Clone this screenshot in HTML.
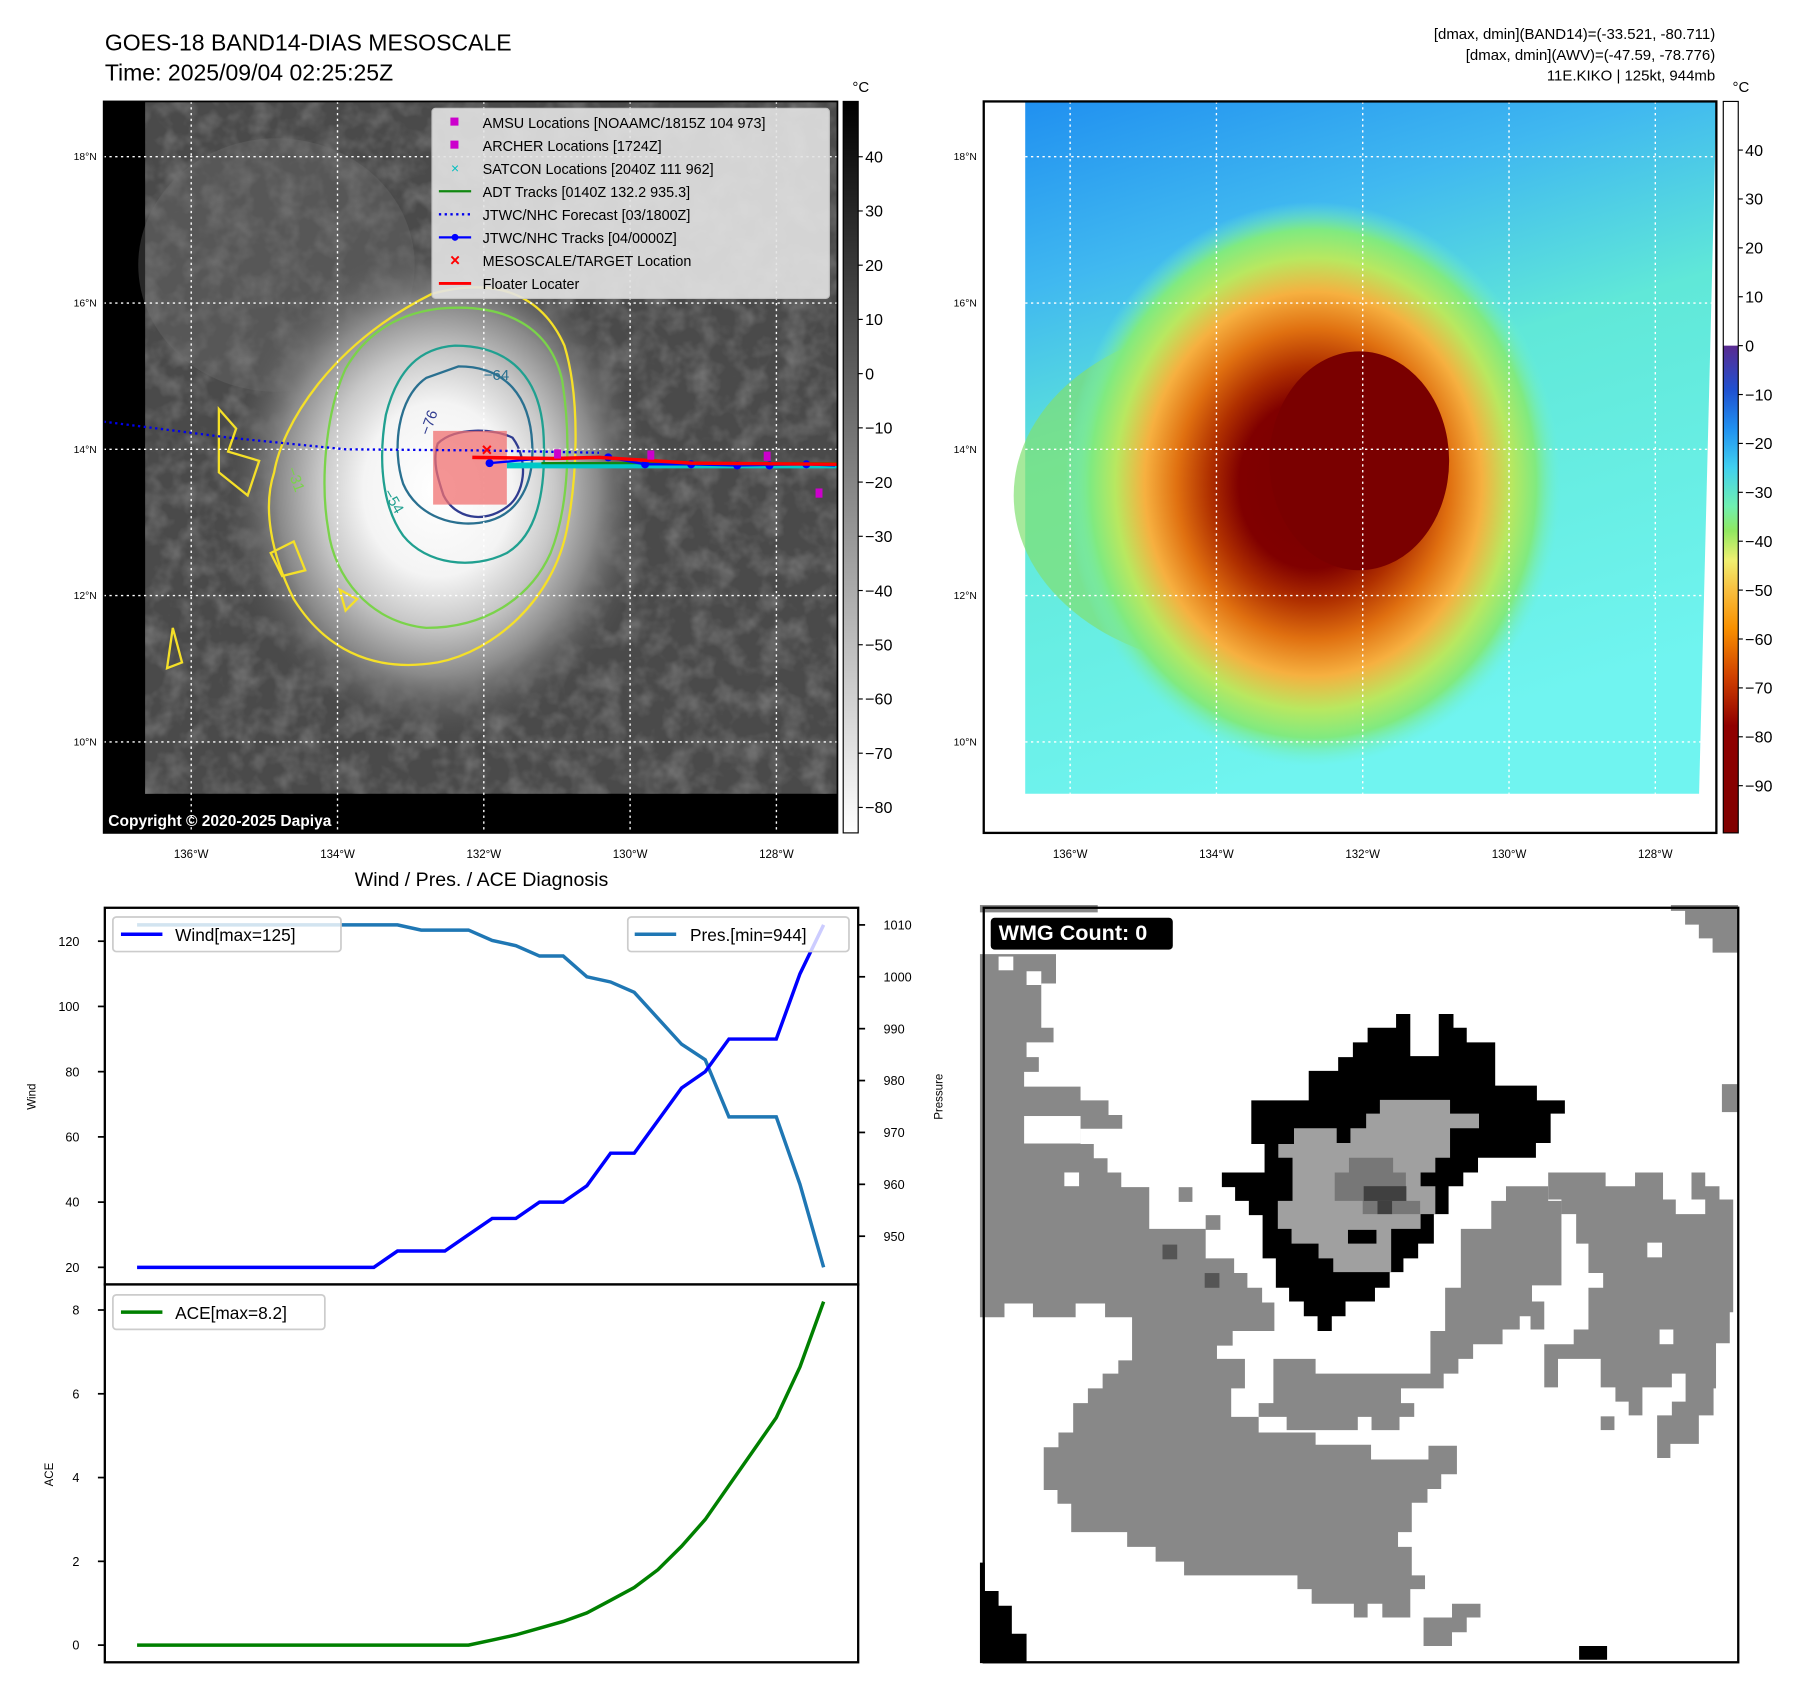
<!DOCTYPE html>
<html><head><meta charset="utf-8">
<style>
html,body{margin:0;padding:0;background:#fff;}
svg{display:block;}
text{font-family:"Liberation Sans","DejaVu Sans",sans-serif;}
</style></head>
<body>
<svg id="root" width="1797" height="1690" viewBox="0 0 1560 1467" xmlns="http://www.w3.org/2000/svg">
<defs>
  <radialGradient id="cloudGrad" cx="0.5" cy="0.5" r="0.5">
    <stop offset="0" stop-color="#ffffff"/>
    <stop offset="0.35" stop-color="#f4f4f4"/>
    <stop offset="0.55" stop-color="#c8c8c8"/>
    <stop offset="0.75" stop-color="#8a8a8a"/>
    <stop offset="1" stop-color="#555" stop-opacity="0"/>
  </radialGradient>
  <radialGradient id="stormGrad" cx="0.5" cy="0.5" r="0.5">
    <stop offset="0" stop-color="#7a0000"/>
    <stop offset="0.3" stop-color="#800000"/>
    <stop offset="0.42" stop-color="#b03000"/>
    <stop offset="0.55" stop-color="#e07010"/>
    <stop offset="0.68" stop-color="#f6b040"/>
    <stop offset="0.8" stop-color="#b8e860"/>
    <stop offset="0.9" stop-color="#80ea80"/>
    <stop offset="1" stop-color="#70f0d0" stop-opacity="0"/>
  </radialGradient>
  <linearGradient id="skyGrad" x1="0" y1="0" x2="0.3" y2="1">
    <stop offset="0" stop-color="#2090f0"/>
    <stop offset="0.25" stop-color="#40b8f0"/>
    <stop offset="0.5" stop-color="#60e8d8"/>
    <stop offset="1" stop-color="#70f4f0"/>
  </linearGradient>
  <linearGradient id="greyBar" x1="0" y1="0" x2="0" y2="1">
    <stop offset="0" stop-color="#000"/>
    <stop offset="1" stop-color="#fff"/>
  </linearGradient>
  <linearGradient id="colorBar" x1="0" y1="0" x2="0" y2="1">
    <stop offset="0" stop-color="#5a2a90"/>
    <stop offset="0.09" stop-color="#2050d0"/>
    <stop offset="0.17" stop-color="#2090f0"/>
    <stop offset="0.25" stop-color="#40d0f0"/>
    <stop offset="0.33" stop-color="#70f0b0"/>
    <stop offset="0.38" stop-color="#90e860"/>
    <stop offset="0.44" stop-color="#f0f070"/>
    <stop offset="0.5" stop-color="#f8c040"/>
    <stop offset="0.58" stop-color="#f89000"/>
    <stop offset="0.68" stop-color="#d04000"/>
    <stop offset="0.78" stop-color="#900000"/>
    <stop offset="1" stop-color="#800000"/>
  </linearGradient>
  <filter id="noise" x="0" y="0" width="100%" height="100%">
    <feTurbulence type="fractalNoise" baseFrequency="0.05" numOctaves="3" seed="4"/>
    <feColorMatrix type="matrix" values="0 0 0 0 0.8  0 0 0 0 0.8  0 0 0 0 0.8  0 0 0 0.5 -0.2"/>
  </filter>
  <clipPath id="leftClip"><rect x="90" y="88" width="637" height="635"/></clipPath>
  <clipPath id="rightClip"><rect x="854" y="88" width="636" height="635"/></clipPath>
</defs>

<!-- Titles -->
<text x="91" y="44" font-size="20">GOES-18 BAND14-DIAS MESOSCALE</text>
<text x="91" y="70" font-size="20">Time: 2025/09/04 02:25:25Z</text>
<text x="1489" y="34" font-size="13" text-anchor="end">[dmax, dmin](BAND14)=(-33.521, -80.711)</text>
<text x="1489" y="52" font-size="13" text-anchor="end">[dmax, dmin](AWV)=(-47.59, -78.776)</text>
<text x="1489" y="70" font-size="13" text-anchor="end">11E.KIKO | 125kt, 944mb</text>

<!-- Left satellite map -->
<g clip-path="url(#leftClip)">
  <rect x="90" y="88" width="637" height="635" fill="#000"/>
  <polygon points="126,88 727,88 727,689 712,689 126,689" fill="#4a4a4a"/>
  <rect x="126" y="88" width="601" height="601" filter="url(#noise)"/>
  <ellipse cx="240" cy="230" rx="120" ry="110" fill="#707070" opacity="0.35"/>
  <ellipse cx="380" cy="425" rx="185" ry="215" fill="url(#cloudGrad)"/>
  <!-- contours -->
  <path d="M375,255 C430,240 470,255 490,300 C505,350 500,420 492,460 C480,520 430,565 380,575 C320,585 280,560 255,520 C235,480 228,440 238,410 C245,370 285,300 375,255 Z" fill="none" stroke="#f5e028" stroke-width="2"/>
  <path d="M190,355 L205,372 L198,392 L225,400 L215,430 L190,410 Z M150,545 L158,575 L145,580 Z M295,512 L310,520 L300,530 Z M235,480 L255,470 L265,495 L245,500 Z" fill="none" stroke="#f5e028" stroke-width="2"/>
  <path d="M380,268 C440,262 478,285 488,330 C496,380 494,440 478,480 C460,520 420,545 370,545 C320,540 290,500 285,460 C278,420 282,360 300,320 C320,285 350,272 380,268 Z" fill="none" stroke="#7ad34a" stroke-width="2"/>
  <path d="M395,300 C445,300 470,330 472,380 C474,430 465,465 440,480 C410,495 370,490 350,465 C332,440 328,400 335,360 C345,320 365,302 395,300 Z" fill="none" stroke="#20a090" stroke-width="2"/>
  <path d="M398,318 C440,318 460,345 462,385 C464,420 450,445 425,452 C395,460 362,448 350,420 C340,390 345,345 370,328 Z" fill="none" stroke="#2a7090" stroke-width="2"/>
  <path d="M380,385 C395,370 430,372 445,380 C460,400 455,430 440,440 C420,455 395,450 385,430 C380,415 375,400 380,385 Z" fill="none" stroke="#303c90" stroke-width="2"/>
  <text x="420" y="330" font-size="13" fill="#2a7090">−64</text>
  <text x="368" y="372" font-size="13" fill="#303c90" transform="rotate(-70 375 372)">−76</text>
  <text x="330" y="432" font-size="13" fill="#20a090" transform="rotate(60 335 432)">−54</text>
  <text x="247" y="410" font-size="13" fill="#7ad34a" transform="rotate(70 250 410)">−31</text>
  <!-- grid -->
  <g stroke="#fff" stroke-width="1.2" stroke-dasharray="2,3">
    <line x1="166" y1="88" x2="166" y2="723"/><line x1="293" y1="88" x2="293" y2="723"/><line x1="420" y1="88" x2="420" y2="723"/><line x1="547" y1="88" x2="547" y2="723"/><line x1="674" y1="88" x2="674" y2="723"/>
    <line x1="90" y1="136" x2="727" y2="136"/><line x1="90" y1="263" x2="727" y2="263"/><line x1="90" y1="390" x2="727" y2="390"/><line x1="90" y1="517" x2="727" y2="517"/><line x1="90" y1="644" x2="727" y2="644"/>
  </g>
  <!-- tracks -->
  <rect x="376" y="374" width="64" height="64" fill="#f07070" opacity="0.75"/>
  <polyline points="90,366 200,380 300,390 420,391 520,393" fill="none" stroke="#0000ee" stroke-width="2" stroke-dasharray="2,3"/>
  <line x1="440" y1="404" x2="727" y2="404" stroke="#00c8c8" stroke-width="5"/>
  <line x1="470" y1="402" x2="727" y2="402" stroke="#118811" stroke-width="2"/>
  <polyline points="425,402 470,398 528,397 560,403 600,403 640,404 700,403 725,404" fill="none" stroke="#0000ff" stroke-width="2"/>
  <g fill="#0000ff"><circle cx="425" cy="402" r="3.5"/><circle cx="528" cy="397" r="3.5"/><circle cx="560" cy="403" r="3.5"/><circle cx="600" cy="403" r="3.5"/><circle cx="640" cy="404" r="3.5"/><circle cx="668" cy="404" r="3.5"/><circle cx="700" cy="403" r="3.5"/></g>
  <polyline points="410,397 480,398 520,397 600,402 727,403" fill="none" stroke="#ff0000" stroke-width="3"/>
  <g fill="#cc00cc"><rect x="481" y="390" width="6" height="8"/><rect x="562" y="391" width="6" height="8"/><rect x="663" y="392" width="6" height="8"/><rect x="708" y="424" width="6" height="8"/></g>
  <text x="418" y="396" font-size="16" fill="#f00" font-weight="bold">×</text>
  <!-- legend -->
  <g>
    <rect x="375" y="94" width="345" height="165" rx="3" fill="#e4e4e4" opacity="0.9" stroke="#ccc"/>
    <rect x="391" y="102" width="7" height="7" fill="#cc00cc"/>
    <text x="419" y="111" font-size="12.5">AMSU Locations [NOAAMC/1815Z 104 973]</text>
    <rect x="391" y="122" width="7" height="7" fill="#cc00cc"/>
    <text x="419" y="131" font-size="12.5">ARCHER Locations [1724Z]</text>
    <text x="395" y="150" font-size="12" fill="#00bfbf" text-anchor="middle">×</text>
    <text x="419" y="151" font-size="12.5">SATCON Locations [2040Z 111 962]</text>
    <line x1="381" y1="166" x2="409" y2="166" stroke="#118811" stroke-width="2"/>
    <text x="419" y="171" font-size="12.5">ADT Tracks [0140Z 132.2 935.3]</text>
    <line x1="381" y1="186" x2="409" y2="186" stroke="#0000ee" stroke-width="2" stroke-dasharray="2,3"/>
    <text x="419" y="191" font-size="12.5">JTWC/NHC Forecast [03/1800Z]</text>
    <line x1="381" y1="206" x2="409" y2="206" stroke="#0000ff" stroke-width="2"/><circle cx="395" cy="206" r="3" fill="#0000ff"/>
    <text x="419" y="211" font-size="12.5">JTWC/NHC Tracks [04/0000Z]</text>
    <text x="395" y="231" font-size="15" fill="#f00" font-weight="bold" text-anchor="middle">×</text>
    <text x="419" y="231" font-size="12.5">MESOSCALE/TARGET Location</text>
    <line x1="381" y1="246" x2="409" y2="246" stroke="#ff0000" stroke-width="2.5"/>
    <text x="419" y="251" font-size="12.5">Floater Locater</text>
  </g>
  <text x="94" y="717" font-size="13.5" font-weight="bold" fill="#fff">Copyright © 2020-2025 Dapiya</text>
</g>
<rect x="90" y="88" width="637" height="635" fill="none" stroke="#000" stroke-width="1.5"/>
<g font-size="9" text-anchor="end">
  <text x="84" y="139">18°N</text><text x="84" y="266">16°N</text><text x="84" y="393">14°N</text><text x="84" y="520">12°N</text><text x="84" y="647">10°N</text>
</g>
<g font-size="10" text-anchor="middle">
  <text x="166" y="745">136°W</text><text x="293" y="745">134°W</text><text x="420" y="745">132°W</text><text x="547" y="745">130°W</text><text x="674" y="745">128°W</text>
</g>
<!-- Left colorbar -->
<g>
  <rect x="732" y="88" width="13" height="635" fill="url(#greyBar)" stroke="#000" stroke-width="1"/>
  <text x="740" y="80" font-size="13">°C</text>
  <g font-size="14" id="greyTicks"></g>
</g>

<!-- Right map -->
<g clip-path="url(#rightClip)">
  <rect x="854" y="88" width="636" height="635" fill="#fff"/>
  <polygon points="890,88 1490,88 1475,689 890,689" fill="url(#skyGrad)"/>
  <ellipse cx="1080" cy="430" rx="200" ry="150" fill="#80e070" opacity="0.7"/>
  <ellipse cx="1140" cy="420" rx="215" ry="245" fill="url(#stormGrad)"/>
  <ellipse cx="1180" cy="400" rx="78" ry="95" fill="#7a0000"/>
  <g stroke="#fff" stroke-width="1.2" stroke-dasharray="2,3">
    <line x1="929" y1="88" x2="929" y2="689"/><line x1="1056" y1="88" x2="1056" y2="689"/><line x1="1183" y1="88" x2="1183" y2="689"/><line x1="1310" y1="88" x2="1310" y2="689"/><line x1="1437" y1="88" x2="1437" y2="689"/>
    <line x1="890" y1="136" x2="1490" y2="136"/><line x1="890" y1="263" x2="1490" y2="263"/><line x1="890" y1="390" x2="1490" y2="390"/><line x1="890" y1="517" x2="1490" y2="517"/><line x1="890" y1="644" x2="1490" y2="644"/>
  </g>
</g>
<rect x="854" y="88" width="636" height="635" fill="none" stroke="#000" stroke-width="2"/>
<g font-size="9" text-anchor="end">
  <text x="848" y="139">18°N</text><text x="848" y="266">16°N</text><text x="848" y="393">14°N</text><text x="848" y="520">12°N</text><text x="848" y="647">10°N</text>
</g>
<g font-size="10" text-anchor="middle">
  <text x="929" y="745">136°W</text><text x="1056" y="745">134°W</text><text x="1183" y="745">132°W</text><text x="1310" y="745">130°W</text><text x="1437" y="745">128°W</text>
</g>
<g>
  <rect x="1496" y="88" width="13" height="212" fill="#fff"/>
  <rect x="1496" y="300" width="13" height="423" fill="url(#colorBar)"/>
  <rect x="1496" y="88" width="13" height="635" fill="none" stroke="#000" stroke-width="1"/>
  <text x="1504" y="80" font-size="13">°C</text>
  <g font-size="14" id="colorTicks"></g>
</g>

<!-- Bottom-left charts -->
<text x="418" y="769" font-size="17" text-anchor="middle">Wind / Pres. / ACE Diagnosis</text>
<g id="windChart"></g>
<g id="aceChart"></g>

<!-- Bottom-right WMG -->
<g>
  <rect x="854" y="788" width="655" height="655" fill="#fff"/>
  <g transform="translate(850.7,785.6) scale(0.426)">
    <g fill="#888888">
      <polygon points="0,100 155,100 155,160 125,160 125,250 150,250 150,280 95,280 95,310 120,310 120,340 90,340 90,370 205,370 205,398 262,398 262,428 290,428 290,456 205,456 205,487 232,487 232,516 260,516 260,545 288,545 288,575 345,575 345,660 460,660 460,720 518,720 518,750 545,750 545,780 575,780 575,810 600,810 600,868 515,868 515,898 483,898 483,925 540,925 540,985 512,985 512,1043 568,1043 568,1075 684,1075 684,1100 797,1100 797,1130 914,1130 914,1102 972,1102 972,1160 940,1160 940,1190 912,1190 912,1218 880,1218 880,1278 852,1278 852,1308 880,1308 880,1366 907,1366 907,1394 877,1394 877,1452 820,1452 820,1424 790,1424 790,1452 762,1452 762,1424 676,1424 676,1394 647,1394 647,1366 416,1366 416,1338 358,1338 358,1308 300,1308 300,1278 186,1278 186,1220 158,1220 158,1192 130,1192 130,1105 160,1105 160,1075 190,1075 190,1015 220,1015 220,985 250,985 250,955 282,955 282,928 310,928 310,840 255,840 255,812 195,812 195,840 108,840 108,812 50,812 50,840 0,840"/>
      <polygon points="598,925 684,925 684,955 918,955 918,868 948,868 948,780 980,780 980,660 1042,660 1042,603 1072,603 1072,573 1158,573 1158,603 1185,603 1185,775 1125,775 1125,808 1150,808 1150,865 1065,865 1065,895 1005,895 1005,925 975,925 975,955 945,955 945,985 858,985 858,1015 885,1015 885,1043 855,1043 855,1070 798,1070 798,1043 770,1043 770,1070 625,1070 625,1043 568,1043 568,1015 598,1015"/>
      <polygon points="1158,545 1275,545 1275,573 1335,573 1335,545 1392,545 1392,600 1418,600 1418,630 1478,630 1478,600 1450,600 1450,545 1478,545 1478,573 1507,573 1507,600 1535,600 1535,830 1528,830 1528,893 1500,893 1500,985 1495,985 1495,1040 1465,1040 1465,1098 1407,1098 1407,1127 1380,1127 1380,1040 1410,1040 1410,1012 1438,1012 1438,955 1410,955 1410,983 1350,983 1350,1040 1322,1040 1322,1012 1295,1012 1295,983 1265,983 1265,925 1178,925 1178,983 1150,983 1150,895 1210,895 1210,865 1240,865 1240,780 1270,780 1270,750 1240,750 1240,690 1215,690 1215,630 1185,630 1185,600 1158,600"/>
      <polygon points="1408,0 1545,0 1545,97 1493,97 1493,68 1465,68 1465,40 1437,40 1437,12 1408,12"/>
      <rect x="1512" y="365" width="33" height="57"/>
      <rect x="0" y="0" width="240" height="15"/>
      <rect x="1265" y="1042" width="28" height="28"/>
      <rect x="405" y="575" width="28" height="30"/>
      <rect x="460" y="632" width="30" height="30"/>
      <polygon points="962,1424 1020,1424 1020,1452 992,1452 992,1482 962,1482 962,1510 904,1510 904,1452 962,1452"/>
    </g>
    <g fill="#fff">
      <rect x="38" y="105" width="30" height="28"/><rect x="95" y="135" width="30" height="28"/>
      <rect x="90" y="430" width="115" height="56"/><rect x="172" y="545" width="30" height="28"/>
      <rect x="1360" y="688" width="30" height="30"/><rect x="1385" y="865" width="28" height="30"/>
      <rect x="1100" y="838" width="22" height="28"/>
    </g>
    <g fill="#555"><rect x="372" y="692" width="30" height="30"/><rect x="458" y="750" width="30" height="30"/></g>
    <polygon fill="#000" points="553,398 670,398 670,338 730,338 730,310 760,310 760,280 790,280 790,250 848,250 848,222 877,222 877,308 935,308 935,222 965,222 965,250 992,250 992,280 1050,280 1050,368 1135,368 1135,398 1192,398 1192,425 1163,425 1163,485 1133,485 1133,515 1015,515 1015,545 985,545 985,573 955,573 955,630 925,630 925,690 893,690 893,720 863,720 863,748 835,748 835,780 805,780 805,808 745,808 745,838 717,838 717,868 688,868 688,838 660,838 660,808 630,808 630,780 603,780 603,720 576,720 576,632 548,632 548,603 520,603 520,575 493,575 493,545 580,545 580,487 553,487"/>
    <polygon fill="#a0a0a0" points="815,397 958,397 958,425 1017,425 1017,455 958,455 958,515 928,515 928,545 898,545 898,573 928,573 928,630 898,630 898,660 838,660 838,748 720,748 720,720 690,720 690,690 635,690 635,660 607,660 607,603 637,603 637,515 608,515 608,487 640,487 640,455 727,455 727,485 755,485 755,455 787,455 787,425 815,425"/>
    <polygon fill="#777" points="752,515 842,515 842,545 868,545 868,603 897,603 897,630 840,630 840,603 810,603 810,630 780,630 780,603 723,603 723,545 752,545"/>
    <g fill="#404040"><rect x="782" y="573" width="87" height="30"/><rect x="810" y="603" width="30" height="27"/></g>
    <rect x="750" y="662" width="58" height="28" fill="#000"/>
    <polygon fill="#000" points="0,1340 10,1340 10,1398 38,1398 38,1428 65,1428 65,1485 95,1485 95,1545 0,1545"/>
    <rect x="1221" y="1510" width="57" height="28" fill="#000"/>
    <rect x="22" y="26" width="371" height="65" rx="8" fill="#000"/>
    <text x="38" y="71" font-size="44" font-weight="bold" fill="#fff">WMG Count: 0</text>
  </g>
  <rect x="854" y="788" width="655" height="655" fill="none" stroke="#000" stroke-width="2"/>
</g>

<script>
const NS = 'http://www.w3.org/2000/svg';
// ---- chart data ----
const steps = [0,1,2,3,4,5,6,7,8,9,10,11,12,13,14,15,16,17,18,19,20,21,22,23,24,25,26,27,28,29];
const windKt = [20,20,20,20,20,20,20,20,20,20,20,25,25,25,30,35,35,40,40,45,55,55,65,75,80,90,90,90,110,125];
const pressureMb = [1010,1010,1010,1010,1010,1010,1010,1010,1010,1010,1010,1010,1009,1009,1009,1007,1006,1004,1004,1000,999,997,992,987,984,973,973,973,960,944];
const aceVals = [0,0,0,0,0,0,0,0,0,0,0,0,0,0,0,0.12,0.245,0.405,0.565,0.77,1.07,1.375,1.8,2.36,3.0,3.81,4.62,5.43,6.64,8.2];
const windTicks = [20,40,60,80,100,120];
const presTicks = [950,960,970,980,990,1000,1010];
const aceTicks = [0,2,4,6,8];
const greyCbTicks = [40,30,20,10,0,-10,-20,-30,-40,-50,-60,-70,-80];
const colorCbTicks = [40,30,20,10,0,-10,-20,-30,-40,-50,-60,-70,-80,-90];

function mk(tag, attrs, parent){
  const e = document.createElementNS(NS, tag);
  for (const k in attrs) e.setAttribute(k, attrs[k]);
  if (parent) parent.appendChild(e);
  return e;
}
const X0 = 91, X1 = 745;
const xScale = i => 119 + i * (715 - 119) / (steps.length - 1);
const windY = v => 788 + (130.25 - v) / (130.25 - 14.75) * (1115 - 788);
const presY = v => 788 + (1013.3 - v) / (1013.3 - 940.7) * (1115 - 788);
const aceY = v => 1115 + (8.61 - v) / (8.61 + 0.41) * (1443 - 1115);

const gT = document.getElementById('greyTicks');
const gY = v => 88 + (50.2 - v) / (50.2 + 84.7) * 635;
greyCbTicks.forEach(v => {
  const y = gY(v);
  mk('line', {x1:745, y1:y, x2:749, y2:y, stroke:'#000'}, gT);
  const t = mk('text', {x:751, y:y+5}, gT);
  t.textContent = v < 0 ? '\u2212' + Math.abs(v) : String(v);
  
  
});
const cT = document.getElementById('colorTicks');
const cY = v => 300 + (0 - v) * (682 - 300) / 90;
colorCbTicks.forEach(v => {
  const y = cY(v);
  mk('line', {x1:1509, y1:y, x2:1513, y2:y, stroke:'#000'}, cT);
  const t = mk('text', {x:1515, y:y+5}, cT);
  t.textContent = v < 0 ? '\u2212' + Math.abs(v) : String(v);
  
  
});

const wc = document.getElementById('windChart');
mk('rect', {x:X0, y:788, width:X1-X0, height:327, fill:'#fff'}, wc);
windTicks.forEach(v => {
  const y = windY(v);
  mk('line', {x1:X0-6, y1:y, x2:X0, y2:y, stroke:'#000', 'stroke-width':1.5}, wc);
  const t = mk('text', {x:X0-22, y:y+4, 'font-size':11, 'text-anchor':'end'}, wc);
  t.textContent = v;
  
  
});
presTicks.forEach(v => {
  const y = presY(v);
  mk('line', {x1:X1, y1:y, x2:X1+6, y2:y, stroke:'#000', 'stroke-width':1.5}, wc);
  const t = mk('text', {x:X1+22, y:y+4, 'font-size':11}, wc);
  t.textContent = v;
  
  
});
const pl = mk('polyline', {points: steps.map(i => xScale(i)+','+presY(pressureMb[i])).join(' '), fill:'none', stroke:'#1f77b4', 'stroke-width':3}, wc);


const wl = mk('polyline', {points: steps.map(i => xScale(i)+','+windY(windKt[i])).join(' '), fill:'none', stroke:'#0000ff', 'stroke-width':3}, wc);


mk('rect', {x:X0, y:788, width:X1-X0, height:327, fill:'none', stroke:'#000', 'stroke-width':2}, wc);
const wlab = mk('text', {x:31, y:952, 'font-size':10, 'text-anchor':'middle', transform:'rotate(-90 31 952)'}, wc);
wlab.textContent = 'Wind';


const plab = mk('text', {x:818, y:952, 'font-size':10, 'text-anchor':'middle', transform:'rotate(-90 818 952)'}, wc);
plab.textContent = 'Pressure';


const lg1 = mk('g', {}, wc);


mk('rect', {x:98, y:796, width:198, height:30, rx:3, fill:'#fff', 'fill-opacity':0.8, stroke:'#ccc', 'stroke-width':1.5}, lg1);
mk('line', {x1:105, y1:811, x2:141, y2:811, stroke:'#0000ff', 'stroke-width':3}, lg1);
const lt1 = mk('text', {x:152, y:817, 'font-size':15}, lg1);
lt1.textContent = 'Wind[max=125]';
const lg2 = mk('g', {}, wc);


mk('rect', {x:545, y:796, width:192, height:30, rx:3, fill:'#fff', 'fill-opacity':0.8, stroke:'#ccc', 'stroke-width':1.5}, lg2);
mk('line', {x1:551, y1:811, x2:587, y2:811, stroke:'#1f77b4', 'stroke-width':3}, lg2);
const lt2 = mk('text', {x:599, y:817, 'font-size':15}, lg2);
lt2.textContent = 'Pres.[min=944]';

const ac = document.getElementById('aceChart');
mk('rect', {x:X0, y:1115, width:X1-X0, height:328, fill:'#fff'}, ac);
aceTicks.forEach(v => {
  const y = aceY(v);
  mk('line', {x1:X0-6, y1:y, x2:X0, y2:y, stroke:'#000', 'stroke-width':1.5}, ac);
  const t = mk('text', {x:X0-22, y:y+4, 'font-size':11, 'text-anchor':'end'}, ac);
  t.textContent = v;
  
  
});
const al = mk('polyline', {points: steps.map(i => xScale(i)+','+aceY(aceVals[i])).join(' '), fill:'none', stroke:'#008000', 'stroke-width':3}, ac);


mk('rect', {x:X0, y:1115, width:X1-X0, height:328, fill:'none', stroke:'#000', 'stroke-width':2}, ac);
const alab = mk('text', {x:46, y:1280, 'font-size':10, 'text-anchor':'middle', transform:'rotate(-90 46 1280)'}, ac);
alab.textContent = 'ACE';


const lg3 = mk('g', {}, ac);


mk('rect', {x:98, y:1124, width:184, height:30, rx:3, fill:'#fff', 'fill-opacity':0.8, stroke:'#ccc', 'stroke-width':1.5}, lg3);
mk('line', {x1:105, y1:1139, x2:141, y2:1139, stroke:'#008000', 'stroke-width':3}, lg3);
const lt3 = mk('text', {x:152, y:1145, 'font-size':15}, lg3);
lt3.textContent = 'ACE[max=8.2]';
</script>
</body></html>
